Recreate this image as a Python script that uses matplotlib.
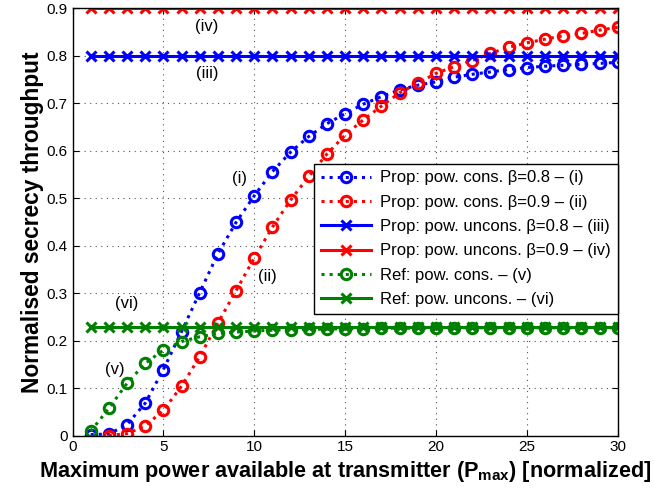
import numpy as np
import matplotlib.pyplot as plt

plt.rcParams['font.family'] = ['Liberation Sans', 'DejaVu Sans']
plt.rcParams['mathtext.fontset'] = 'custom'
plt.rcParams['mathtext.rm'] = 'Liberation Sans'
plt.rcParams['mathtext.bf'] = 'Liberation Sans:bold'

# power axis (normalized P_max)
p = np.arange(1, 31)
p_red = np.arange(2, 31)

# proposed scheme, power constrained
prop_cons_08 = [0.002, 0.003, 0.023, 0.068, 0.139, 0.219, 0.301, 0.383, 0.449, 0.505,
                0.556, 0.597, 0.630, 0.657, 0.678, 0.698, 0.714, 0.728, 0.738, 0.745,
                0.755, 0.761, 0.766, 0.771, 0.775, 0.778, 0.780, 0.782, 0.784, 0.786]
prop_cons_09 = [0.000, 0.004, 0.020, 0.053, 0.104, 0.166, 0.237, 0.305, 0.374,
                0.439, 0.496, 0.546, 0.593, 0.633, 0.665, 0.694, 0.722, 0.742, 0.763,
                0.777, 0.790, 0.805, 0.818, 0.827, 0.835, 0.842, 0.847, 0.854, 0.860]
# proposed scheme, power unconstrained
prop_uncons_08 = [0.8] * 30
prop_uncons_09 = [0.9] * 30
# reference scheme
ref_cons = [0.009, 0.057, 0.110, 0.152, 0.180, 0.198, 0.208, 0.215, 0.218, 0.220,
            0.222, 0.223, 0.224, 0.224, 0.225, 0.225, 0.226, 0.226, 0.226, 0.226,
            0.227, 0.227, 0.227, 0.227, 0.227, 0.227, 0.227, 0.227, 0.227, 0.227]
ref_uncons = [0.229] * 30

fig = plt.figure(figsize=(6.54, 4.94), dpi=100)
ax = fig.add_axes([72.5/654, 1 - 435.5/494, 545.2/654, 427.2/494])

mk = dict(markersize=7.5, markeredgewidth=2.2, markerfacecolor='none')
ax.plot(p, prop_cons_08, ':', color='#0000ff', lw=2.2, marker='o', label='Prop: pow. cons. β=0.8 – (i)', **mk)
ax.plot(p_red, prop_cons_09, ':', color='#ff0000', lw=2.2, marker='o', label='Prop: pow. cons. β=0.9 – (ii)', **mk)
ax.plot(p, prop_uncons_08, '-', color='#0000ff', lw=2.2, marker='x', label='Prop: pow. uncons. β=0.8 – (iii)', **mk)
ax.plot(p, prop_uncons_09, '-', color='#ff0000', lw=2.2, marker='x', label='Prop: pow. uncons. β=0.9 – (iv)', **mk)
ax.plot(p, ref_cons, ':', color='#008000', lw=2.2, marker='o', label='Ref: pow. cons. – (v)', **mk)
ax.plot(p, ref_uncons, '-', color='#008000', lw=2.2, marker='x', label='Ref: pow. uncons. – (vi)', **mk)

ax.set_xlim(0, 30)
ax.set_ylim(0, 0.9)
ax.set_xticks(np.arange(0, 31, 5))
ax.set_yticks(np.arange(0, 0.91, 0.1))
ax.set_yticklabels(['0'] + ['%.1f' % v for v in np.arange(0.1, 0.91, 0.1)])
ax.tick_params(direction='in', top=True, right=True, labelsize=11, length=4)
ax.grid(True, linestyle=(0, (1, 4)), color='#555555', linewidth=0.8)
for s in ax.spines.values():
    s.set_linewidth(1.0)

ax.set_xlabel(r'Maximum power available at transmitter (P$_{\mathbf{max}}$) [normalized]',
              fontsize=15.6, fontweight='bold', labelpad=3)
ax.set_ylabel('Normalised secrecy throughput', fontsize=16.4, fontweight='bold', labelpad=2)

# curve tags
for txt, xx, yy in [('(i)', 9.2, 0.542), ('(ii)', 10.7, 0.335), ('(iii)', 7.4, 0.762),
                    ('(iv)', 7.4, 0.861), ('(v)', 2.35, 0.139), ('(vi)', 3.0, 0.278)]:
    ax.text(xx, yy, txt, fontsize=12, ha='center', va='center')

leg = ax.legend(loc='upper right', bbox_to_anchor=(1.0, 0.636), fontsize=12,
                frameon=True, fancybox=False, framealpha=1, edgecolor='black',
                handlelength=3.0, handletextpad=0.55, borderaxespad=0,
                labelspacing=0.56, borderpad=0.4)
leg.get_frame().set_linewidth(1.0)

fig.savefig('out.png', dpi=100)
